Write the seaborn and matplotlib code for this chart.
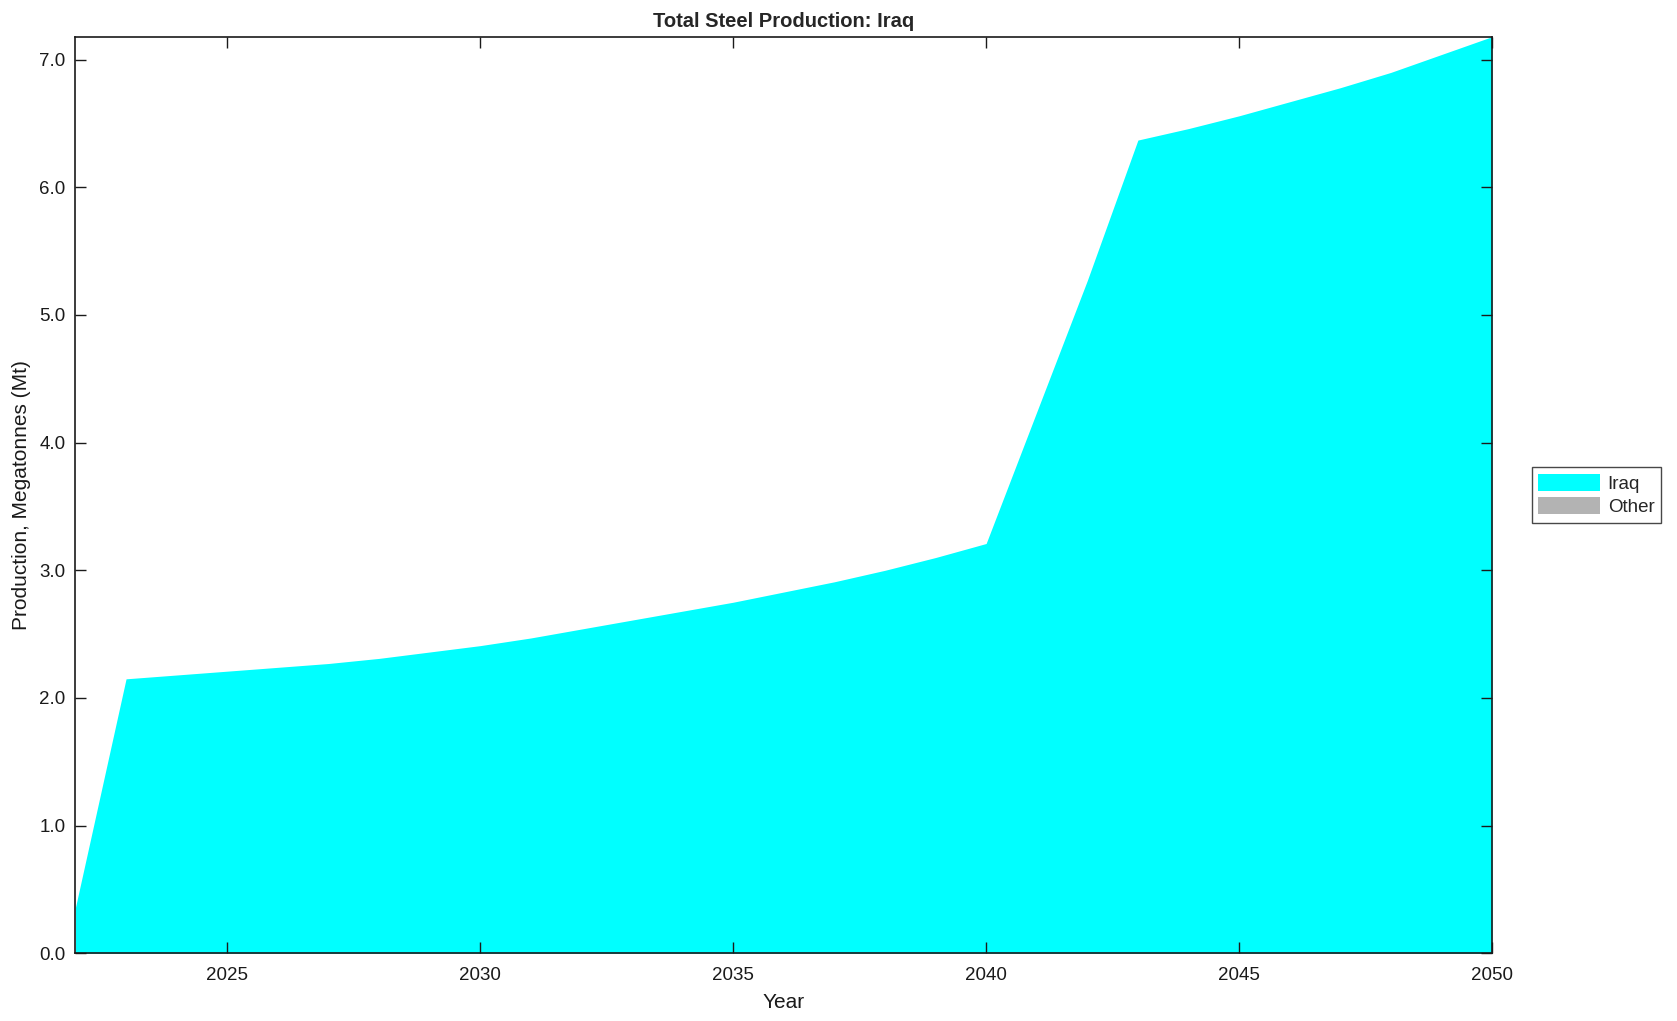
import numpy as np
import pandas as pd
import matplotlib
matplotlib.use('Agg')
import matplotlib.pyplot as plt
import seaborn as sns

# data (Mt per year)
years = list(range(2022, 2051))
iraq = [0.36, 2.15, 2.18, 2.21, 2.24, 2.27, 2.31, 2.36, 2.41, 2.47,
        2.54, 2.61, 2.68, 2.75, 2.83, 2.91, 3.00, 3.10, 3.21,
        4.24, 5.27, 6.37, 6.46, 6.56, 6.67, 6.78, 6.90, 7.04, 7.18]
other = [0.0] * len(years)
series_names = ['Iraq', 'Other']
series_colors = ['#00ffff', '#b3b3b3']

df = pd.DataFrame({'Year': years, 'Iraq': iraq, 'Other': other})

sns.set_style('ticks')
plt.rcParams['font.family'] = ['Liberation Sans', 'DejaVu Sans']

fig = plt.figure(figsize=(16.77, 10.21), dpi=100)
ax = fig.add_axes([0.045, 0.0663, 0.8447, 0.8978])

ax.stackplot(df['Year'], df['Iraq'], df['Other'],
             colors=series_colors, labels=series_names, linewidth=0)
ax.set_axisbelow(False)

ax.set_xlim(2022, 2050)
ax.set_ylim(0, df[['Iraq', 'Other']].sum(axis=1).max())
ax.set_xticks([2025, 2030, 2035, 2040, 2045, 2050])
ax.set_yticks(np.arange(0, 8, 1.0))
ax.yaxis.set_major_formatter(matplotlib.ticker.FormatStrFormatter('%.1f'))
ax.tick_params(direction='in', length=8, width=1, labelsize=13.5, pad=7,
               right=True, top=True, colors='#1a1a1a', labelcolor='#1a1a1a')
ax.tick_params(axis='x', pad=10)
for s in ax.spines.values():
    s.set_visible(True)
    s.set_linewidth(1.2)
    s.set_color('#1a1a1a')

ax.set_title('Total Steel Production: Iraq', fontsize=14.5, fontweight='bold', pad=7)
ax.set_xlabel('Year', fontsize=15, color='#1a1a1a', labelpad=6)
ax.set_ylabel('Production, Megatonnes (Mt)', fontsize=15, color='#1a1a1a', labelpad=6)

leg = ax.legend(loc='center left', bbox_to_anchor=(1.028, 0.5), frameon=True,
                fancybox=False, edgecolor='#1a1a1a', fontsize=13.5,
                handlelength=3.3, handleheight=1.0, handletextpad=0.4,
                borderpad=0.35, labelspacing=0.25, borderaxespad=0)
leg.get_frame().set_linewidth(1.0)

fig.savefig('out.png', dpi=100, facecolor='white')
